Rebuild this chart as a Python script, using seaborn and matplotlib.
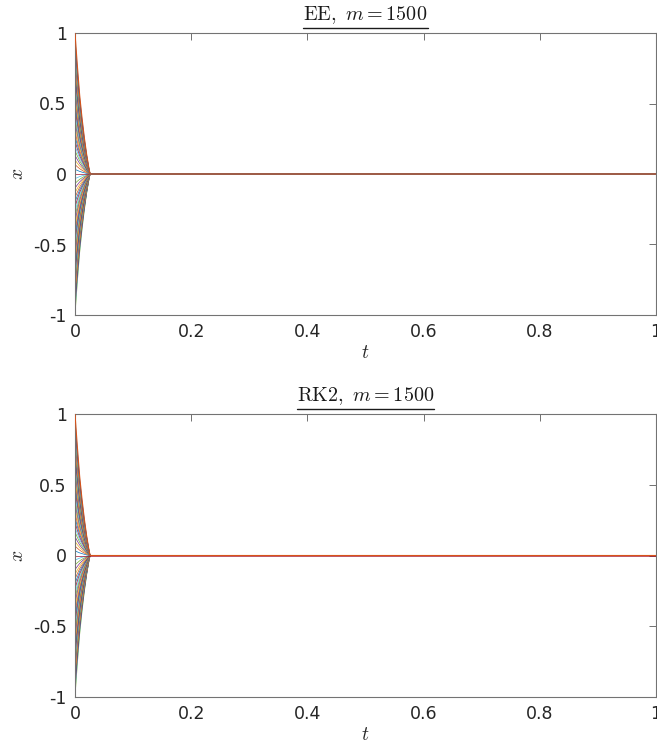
import numpy as np
import pandas as pd
import seaborn as sns
import matplotlib
matplotlib.use("Agg")
import matplotlib.pyplot as plt
from matplotlib.lines import Line2D
from matplotlib.colors import to_rgba

# ---- data ----
titles = ["EE", "RK2"]
m_value = 1500
# initial positions of the trajectories
x0_values = [-1.000, -0.967, -0.933, -0.900, -0.867, -0.833, -0.800, -0.767, -0.733, -0.700,
             -0.667, -0.633, -0.600, -0.567, -0.533, -0.500, -0.467, -0.433, -0.400, -0.367,
             -0.333, -0.300, -0.267, -0.233, -0.200, -0.167, -0.133, -0.100, -0.067, -0.033,
             0.000, 0.033, 0.067, 0.100, 0.133, 0.167, 0.200, 0.233, 0.267, 0.300,
             0.333, 0.367, 0.400, 0.433, 0.467, 0.500, 0.533, 0.567, 0.600, 0.633,
             0.667, 0.700, 0.733, 0.767, 0.800, 0.833, 0.867, 0.900, 0.933, 0.967, 1.000]
# time samples and relative decay of each trajectory (read from envelope)
t_samples = [0.0, 0.004, 0.008, 0.012, 0.016, 0.020, 0.024, 0.026, 1.0]
decay_ee = [1.0, 0.77, 0.56, 0.40, 0.26, 0.14, 0.04, 0.0, 0.0]
decay_rk2 = [1.0, 0.77, 0.56, 0.40, 0.26, 0.14, 0.04, 0.0, 0.0]
xticks = [0, 0.2, 0.4, 0.6, 0.8, 1]
yticks = [-1, -0.5, 0, 0.5, 1]
xtick_labels = ["0", "0.2", "0.4", "0.6", "0.8", "1"]
ytick_labels = ["-1", "-0.5", "0", "0.5", "1"]

matlab_colors = ["#0072BD", "#D95319", "#EDB120", "#7E2F8E", "#77AC30", "#4DBEEE", "#A2142F"]


def make_frame(decay):
    rows = []
    for i, x0 in enumerate(x0_values):
        for t, d in zip(t_samples, decay):
            rows.append({"line": i, "t": t, "x": x0 * d})
    return pd.DataFrame(rows)


sns.set_style("white")
plt.rcParams["mathtext.fontset"] = "cm"
plt.rcParams["font.family"] = ["DejaVu Sans"]

W, H = 657, 747
fig = plt.figure(figsize=(W / 100, H / 100), dpi=100)

ax_boxes = [(75, 33, 656, 315), (75, 414, 656, 697)]
decays = [decay_ee, decay_rk2]
n = len(x0_values)
# the last trajectory is orange (MATLAB 2nd colour)
palette = [matlab_colors[(i - (n - 2)) % 7] for i in range(n)]
orange = to_rgba("#D95319")

axes = []
for (l, t, r, b), dec, name in zip(ax_boxes, decays, titles):
    ax = fig.add_axes([l / W, 1 - b / H, (r - l) / W, (b - t) / H])
    df = make_frame(dec)
    sns.lineplot(data=df, x="t", y="x", hue="line", palette=palette,
                 estimator=None, sort=False, legend=False, lw=0.5, ax=ax)
    # bring one orange trajectory to the top so the converged line reads orange
    oranges = [ln for ln in ax.lines if np.allclose(to_rgba(ln.get_color()), orange)]
    if oranges:
        oranges[-1].set_zorder(5)
        oranges[-1].set_linewidth(0.8)
    ax.set_xlim(0, 1)
    ax.set_ylim(-1, 1)
    ax.set_xticks(xticks)
    ax.set_xticklabels(xtick_labels)
    ax.set_yticks(yticks)
    ax.set_yticklabels(ytick_labels)
    ax.tick_params(direction="in", length=5, width=0.6, colors="0.35",
                   labelcolor="0.15", labelsize=12.5, top=True, right=True, pad=6)
    for s in ax.spines.values():
        s.set_color("0.45")
        s.set_linewidth(0.8)
    ax.set_xlabel(r"$t$", fontsize=14, labelpad=1, color="0.15")
    ax.set_ylabel(r"$x$", fontsize=14, labelpad=4, color="0.15")
    ax.set_title(r"$\mathrm{%s},\ m = %d$" % (name, m_value), fontsize=14.5, pad=9, color="0.1")
    axes.append(ax)

fig.canvas.draw()
renderer = fig.canvas.get_renderer()
for ax in axes:
    bb = ax.title.get_window_extent(renderer)
    y = (bb.y0 - 2) / H
    fig.add_artist(Line2D([bb.x0 / W, bb.x1 / W], [y, y], color="0.1", lw=1.0,
                          transform=fig.transFigure))

fig.savefig("out.png", dpi=100)
